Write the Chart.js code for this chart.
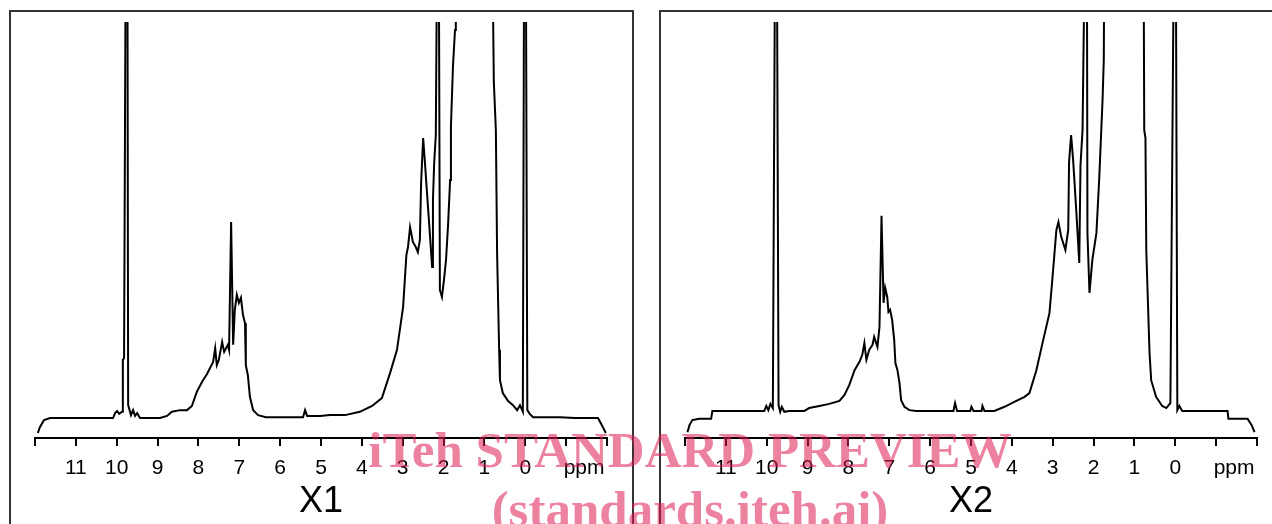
<!DOCTYPE html>
<html>
<head>
<meta charset="utf-8">
<script src="https://cdn.jsdelivr.net/npm/chart.js@4.4.0/dist/chart.umd.min.js"></script>
<style>
  html, body { margin: 0; padding: 0; background: #fff; }
  body { width: 1272px; height: 524px; overflow: hidden; position: relative; }
  .frame { position: absolute; top: 10px; height: 700px; border: 2px solid #333; box-sizing: border-box; }
  #frame1 { left: 9px; width: 625px; }
  #frame2 { left: 659px; width: 700px; }
  canvas { position: absolute; top: 0; }
  #chartX1 { left: 0; }
  #chartX2 { left: 650px; }
  .watermark {
    position: absolute; left: 0; top: 421px; width: 1380px; text-align: center;
    font-family: "Liberation Serif", "Times New Roman", serif; font-weight: bold;
    font-size: 51px; line-height: 59px; color: rgba(220, 28, 82, 0.55);
    white-space: nowrap; pointer-events: none;
  }
</style>
</head>
<body>
<div class="frame" id="frame1"></div>
<div class="frame" id="frame2"></div>
<canvas id="chartX1" width="636" height="524"></canvas>
<canvas id="chartX2" width="636" height="524"></canvas>
<div class="watermark">iTeh STANDARD PREVIEW<br>(standards.iteh.ai)</div>
<script>
// chemical shift (ppm) and relative intensity
const ppmX1 = [11.93, 11.88, 11.78, 11.63, 10.09, 10.04, 9.99, 9.94, 9.87, 9.85,
  9.82, 9.775, 9.74, 9.72, 9.65, 9.60, 9.55, 9.50, 9.43, 8.94,
  8.77, 8.65, 8.45, 8.28, 8.16, 8.04, 7.91, 7.79, 7.64, 7.59,
  7.55, 7.50, 7.42, 7.37, 7.28, 7.25, 7.20, 7.15, 7.11, 7.06,
  7.01, 6.96, 6.91, 6.86, 6.84, 6.79, 6.74, 6.66, 6.54, 6.35,
  5.44, 5.39, 5.34, 5.02, 4.78, 4.41, 4.05, 3.75, 3.51, 3.31,
  3.14, 2.99, 2.91, 2.87, 2.82, 2.75, 2.68, 2.63, 2.58, 2.55,
  2.50, 2.46, 2.41, 2.33, 2.28, 2.26, 2.23, 2.19, 2.15, 2.12,
  2.09, 2.04, 1.99, 1.94, 1.89, 1.84, 1.82, 1.77, 1.72, 1.70,
  0.82, 0.77, 0.72, 0.69, 0.64, 0.62, 0.55, 0.42, 0.30, 0.20,
  0.13, 0.06, 0.025, -0.01, -0.05, -0.11, -0.19, -0.85, -1.22, -1.78,
  -1.90, -1.97];
const intX1 = [1.2, 2.6, 4.3, 4.8, 4.8, 6.0, 6.5, 5.8, 6.3, 18.8,
  19.2, 130, 130, 7.9, 5.5, 6.7, 5.3, 6.0, 4.8, 4.8,
  5.3, 6.3, 6.7, 6.7, 7.7, 11.1, 13.5, 15.4, 18.3, 21.6,
  17.5, 18.8, 23.1, 20.7, 22.4, 21.2, 51.9, 22.4, 30.8, 34.4,
  32.5, 33.7, 29.6, 27.6, 17.5, 15.1, 9.9, 6.7, 5.5, 5.0,
  5.0, 6.7, 5.3, 5.3, 5.5, 5.5, 6.3, 7.7, 9.6, 15.6,
  21.2, 31.5, 44.0, 45.9, 50.7, 47.1, 45.9, 44.7, 47.6, 61.3,
  72.1, 66.8, 59.6, 48.3, 41.1, 57.2, 66.1, 72.8, 130, 130,
  35.6, 33.9, 38.0, 42.8, 51.2, 62.0, 74.8, 89.4, 98.1, 130,
  130, 85.6, 74.0, 44.5, 21.2, 13.9, 10.8, 8.9, 7.9, 6.7,
  7.9, 6.3, 130, 130, 6.7, 5.8, 5.0, 5.0, 4.8, 4.8,
  2.6, 1.2];

const ppmX2 = [11.94, 11.89, 11.82, 11.65, 11.36, 11.33, 10.06, 10.01, 9.96, 9.91,
  9.85, 9.79, 9.755, 9.71, 9.67, 9.63, 9.57, 9.45, 9.08, 8.96,
  8.71, 8.47, 8.22, 8.10, 7.98, 7.85, 7.73, 7.66, 7.61, 7.56,
  7.49, 7.41, 7.37, 7.29, 7.24, 7.19, 7.14, 7.10, 7.05, 7.02,
  6.98, 6.93, 6.88, 6.85, 6.80, 6.75, 6.71, 6.63, 6.51, 6.34,
  5.43, 5.39, 5.34, 5.02, 4.99, 4.94, 4.74, 4.72, 4.67, 4.43,
  4.18, 3.94, 3.69, 3.57, 3.40, 3.25, 3.08, 3.01, 2.91, 2.86,
  2.79, 2.69, 2.62, 2.60, 2.55, 2.50, 2.42, 2.35, 2.32, 2.27,
  2.20, 2.165, 2.15, 2.10, 2.03, 1.93, 1.86, 1.78, 1.75, 1.73,
  0.78, 0.76, 0.73, 0.71, 0.63, 0.59, 0.47, 0.32, 0.22, 0.12,
  0.025, -0.01, -0.05, -0.10, -0.17, -1.28, -1.30, -1.77, -1.87, -1.94];
const intX2 = [1.4, 3.1, 4.3, 4.6, 4.6, 6.5, 6.5, 7.7, 6.7, 8.2,
  7.2, 130, 130, 7.9, 6.3, 7.5, 6.3, 6.5, 6.5, 7.2,
  7.7, 8.2, 8.9, 10.3, 12.7, 16.3, 18.3, 20.0, 22.8, 18.8,
  21.2, 22.4, 24.3, 21.9, 26.7, 53.4, 32.5, 36.1, 33.9, 30.3,
  30.8, 28.4, 23.6, 18.0, 16.3, 13.2, 9.1, 7.5, 6.7, 6.5,
  6.5, 8.4, 6.5, 6.5, 7.5, 6.5, 6.5, 7.7, 6.5, 6.5,
  7.5, 8.7, 9.9, 10.8, 16.3, 22.8, 30.0, 38.0, 50.0, 51.9,
  48.3, 45.2, 50.0, 66.3, 72.8, 66.8, 54.1, 42.1, 65.6, 74.0,
  130, 130, 49.3, 34.9, 42.8, 49.3, 62.7, 81.3, 90.9, 130,
  130, 74.0, 72.1, 45.2, 20.4, 13.9, 9.9, 7.7, 7.2, 8.4,
  130, 130, 6.7, 7.7, 6.5, 6.5, 4.6, 4.6, 3.1, 1.4];

const tickLabels = [11, 10, 9, 8, 7, 6, 5, 4, 3, 2, 1, 0];
const unitText = 'ppm';
const unitPos = -1.44;

const axisFont = { family: '"Liberation Sans", Arial, sans-serif', size: 21 };

function drawSpectrum(canvasId, ppm, intensity, title) {
  const ctx = document.getElementById(canvasId).getContext('2d');
  return new Chart(ctx, {
    type: 'line',
    data: {
      datasets: [{
        data: ppm.map((p, i) => ({ x: p, y: intensity[i] })),
        borderColor: '#000',
        borderWidth: 2,
        pointRadius: 0,
        tension: 0,
        fill: false
      }]
    },
    options: {
      responsive: false,
      animation: false,
      devicePixelRatio: 1,
      layout: { padding: { left: 35, right: 29, top: 22, bottom: 0 } },
      plugins: { legend: { display: false }, tooltip: { enabled: false } },
      scales: {
        x: {
          type: 'linear',
          reverse: true,
          min: -2,
          max: 12,
          // extra tick that carries the unit label instead of a number
          afterBuildTicks: s => { s.ticks.splice(1, 0, { value: unitPos }); },
          afterFit: s => { s.height = 86; },
          ticks: {
            stepSize: 1,
            autoSkip: false,
            maxRotation: 0,
            color: '#000',
            font: axisFont,
            padding: 10,
            callback: v => v === unitPos ? unitText : (tickLabels.includes(v) ? String(v) : '')
          },
          grid: {
            drawOnChartArea: false,
            drawTicks: true,
            tickLength: 8,
            lineWidth: 2,
            tickColor: c => (c.tick && c.tick.value === unitPos) ? 'rgba(0,0,0,0)' : '#000'
          },
          border: { display: true, color: '#000', width: 2 },
          title: {
            display: true,
            text: title,
            color: '#000',
            font: { family: axisFont.family, size: 36 },
            padding: { top: 0, bottom: 0 }
          }
        },
        y: { display: false, min: 0, max: 100 }
      }
    }
  });
}

drawSpectrum('chartX1', ppmX1, intX1, 'X1');
drawSpectrum('chartX2', ppmX2, intX2, 'X2');
</script>
</body>
</html>
